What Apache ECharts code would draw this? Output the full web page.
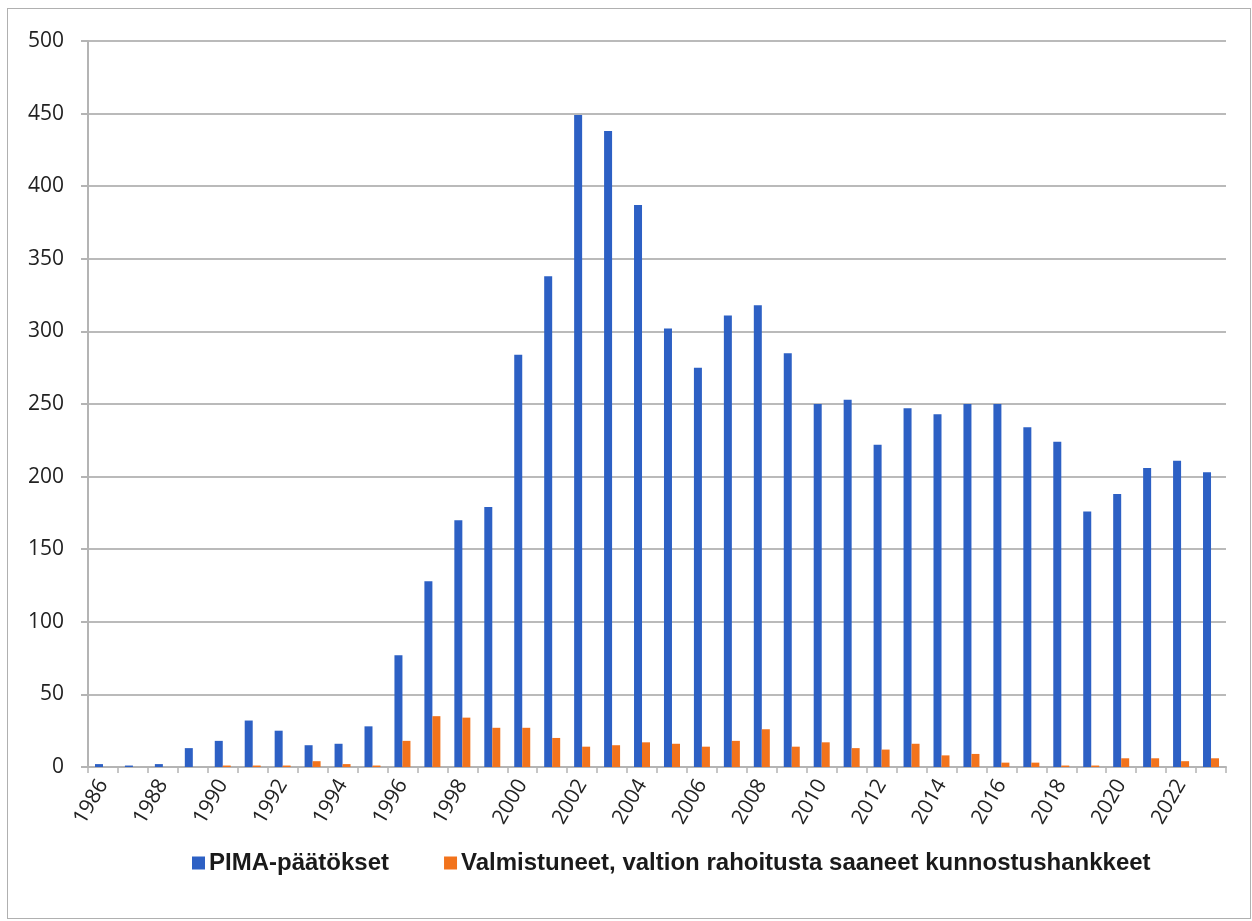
<!DOCTYPE html>
<html>
<head>
<meta charset="utf-8">
<script src="https://cdn.jsdelivr.net/npm/echarts@6/dist/echarts.min.js"></script>
<style>
  body { margin: 0; background: #fff; }
  #main { width: 1252px; height: 921px; }
  #frame { position: absolute; left: 7px; top: 8px; width: 1242px; height: 909px;
           border: 1px solid #b0b0b0; pointer-events: none; }
</style>
</head>
<body>
<div id="main"></div>
<div id="frame"></div>
<script>
// vuodet
var years = [];
for (var y = 1986; y <= 2023; y++) { years.push(String(y)); }

// PIMA-päätökset
var pima = [2, 1, 2, 13, 18, 32, 25, 15, 16, 28,
            77, 128, 170, 179, 284, 338, 449, 438, 387, 302,
            275, 311, 318, 285, 250, 253, 222, 247, 243, 250,
            250, 234, 224, 176, 188, 206, 211, 203];

// valmistuneet kunnostushankkeet
var valmistuneet = [0, 0, 0, 0, 1, 1, 1, 4, 2, 1,
                    18, 35, 34, 27, 27, 20, 14, 15, 17, 16,
                    14, 18, 26, 14, 17, 13, 12, 16, 8, 9,
                    3, 3, 1, 1, 6, 6, 4, 6];

var yTicks = { min: 0, max: 500, interval: 50 };

var myChart = echarts.init(document.getElementById("main"));

var option = {
    animation: false,
    backgroundColor: '#ffffff',
    grid: {
        left: 88,
        right: 26,
        top: 41,
        bottom: 154
    },
    legend: {
        left: 187,
        top: 846,
        itemWidth: 13,
        itemHeight: 13,
        itemGap: 55,
        icon: 'rect',
        textStyle: {
            fontFamily: 'Liberation Sans, Arial, sans-serif',
            fontWeight: 'bold',
            fontSize: 24,
            color: '#1a1a1a',
            padding: [0, 0, 0, -1]
        },
        data: ['PIMA-päätökset', 'Valmistuneet, valtion rahoitusta saaneet kunnostushankkeet']
    },
    xAxis: {
        type: 'category',
        data: years,
        axisLine: { lineStyle: { color: '#b4b4b4', width: 2 } },
        axisTick: { show: true, interval: 0, length: 6, lineStyle: { color: '#b4b4b4', width: 1.5 } },
        axisLabel: {
            interval: 1,
            rotate: 60,
            margin: 14,
            fontFamily: 'Open Sans, sans-serif',
            fontSize: 21,
            color: '#222222'
        }
    },
    yAxis: {
        type: 'value',
        min: yTicks.min,
        max: yTicks.max,
        interval: yTicks.interval,
        axisLine: { show: true, lineStyle: { color: '#b4b4b4', width: 2 } },
        axisTick: { show: true, length: 7, lineStyle: { color: '#b4b4b4', width: 2 } },
        splitLine: { lineStyle: { color: '#bababa', width: 2 } },
        axisLabel: {
            margin: 24,
            fontFamily: 'Open Sans, sans-serif',
            fontSize: 21,
            color: '#222222'
        }
    },
    series: [
        {
            name: 'PIMA-päätökset',
            type: 'bar',
            data: pima,
            barWidth: 8,
            barGap: '0%',
            itemStyle: { color: '#2d60c4' }
        },
        {
            name: 'Valmistuneet, valtion rahoitusta saaneet kunnostushankkeet',
            type: 'bar',
            data: valmistuneet,
            barWidth: 8,
            barGap: '0%',
            itemStyle: { color: '#f2731c' }
        }
    ]
};

myChart.setOption(option);
</script>
</body>
</html>
